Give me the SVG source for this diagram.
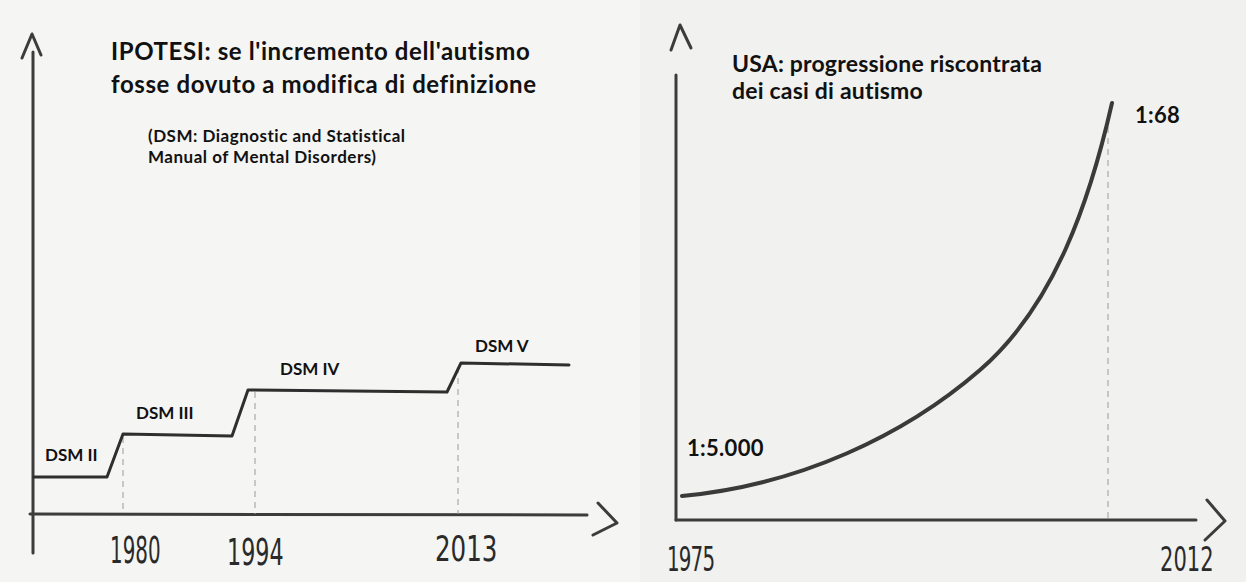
<svg xmlns="http://www.w3.org/2000/svg" width="1246" height="582" viewBox="0 0 1246 582">
<style>
.t{font-family:Lato,"Liberation Sans",sans-serif;font-weight:bold;fill:#111}
.h{font-family:"DejaVu Sans Condensed","DejaVu Sans",sans-serif;font-weight:300;fill:#2a2a2a;font-size:26px}
.ax{fill:none;stroke:#3c3c3c;stroke-width:3;stroke-linecap:round;stroke-linejoin:round}
.ln{fill:none;stroke:#2e2e2e;stroke-width:3;stroke-linecap:round;stroke-linejoin:round}
.cv{fill:none;stroke:#3a3a3a;stroke-width:4;stroke-linecap:round}
.ds{fill:none;stroke:#9a9a9a;stroke-width:1;stroke-dasharray:6 5}
</style>
<rect width="1246" height="582" fill="#f5f5f3"/>
<rect x="640" width="606" height="582" fill="#f1f1ef"/>

<g id="connectors">
  <path class="ax" d="M33 52 L33 553"/>
  <path class="ax" d="M22 58 L32 34 L41 55"/>
  <path class="ax" d="M30 514 L587 515"/>
  <path class="ax" d="M598 503 L617 523 L593 535"/>
  <path class="ds" d="M123 437 L123 514 M255 392 L255 514 M458 367 L458 514"/>
  <path class="ln" d="M34 477 L107 477 L123 434 L232 436 L248 390 L447 392 L461 363 L569 365"/>
  <path class="ax" d="M676 75 L676 520"/>
  <path class="ax" d="M671 50 L680 25 L691 48"/>
  <path class="ax" d="M676 520 L1196 520"/>
  <path class="ax" d="M1207 500 L1225 521 L1205 540"/>
  <path class="ds" d="M1108 127 L1108 520"/>
  <path class="cv" d="M682 496 C 800 485, 905 435, 980 370 S 1090 200, 1112 103"/>
</g>

<g id="title-left">
  <text class="t" x="111" y="60" font-size="24" letter-spacing="0.6">IPOTESI: se l'incremento dell'autismo</text>
  <text class="t" x="111" y="93" font-size="24" letter-spacing="0.6">fosse dovuto a modifica di definizione</text>
</g>
<g id="note-dsm">
  <text class="t" x="148" y="142" font-size="17" letter-spacing="0.5">(DSM: Diagnostic and Statistical</text>
  <text class="t" x="148" y="163" font-size="17" letter-spacing="0.5">Manual of Mental Disorders)</text>
</g>
<g id="dsm2"><text class="t" x="45" y="461" font-size="17">DSM II</text></g>
<g id="dsm3"><text class="t" x="136" y="419" font-size="17">DSM III</text></g>
<g id="dsm4"><text class="t" x="280" y="375" font-size="17">DSM IV</text></g>
<g id="dsm5"><text class="t" x="475" y="352" font-size="17">DSM V</text></g>
<g id="years-left">
  <text class="h" transform="translate(110 563) scale(0.85 1.45)">1980</text>
  <text class="h" transform="translate(227 565) scale(0.95 1.45)">1994</text>
  <text class="h" transform="translate(435 561) scale(1.05 1.35)">2013</text>
</g>

<g id="title-right">
  <text class="t" x="732" y="72" font-size="23" letter-spacing="0.2">USA: progressione riscontrata</text>
  <text class="t" x="732" y="99" font-size="23" letter-spacing="0.2">dei casi di autismo</text>
</g>
<g id="val-start"><text class="t" x="687" y="456" font-size="22" letter-spacing="0.3">1:5.000</text></g>
<g id="val-end"><text class="t" x="1135" y="123" font-size="22" letter-spacing="0.3">1:68</text></g>
<g id="years-right">
  <text class="h" transform="translate(667 571) scale(0.85 1.3)" letter-spacing="-1">1975</text>
  <text class="h" transform="translate(1160 571) scale(0.9 1.3)">2012</text>
</g>
</svg>
